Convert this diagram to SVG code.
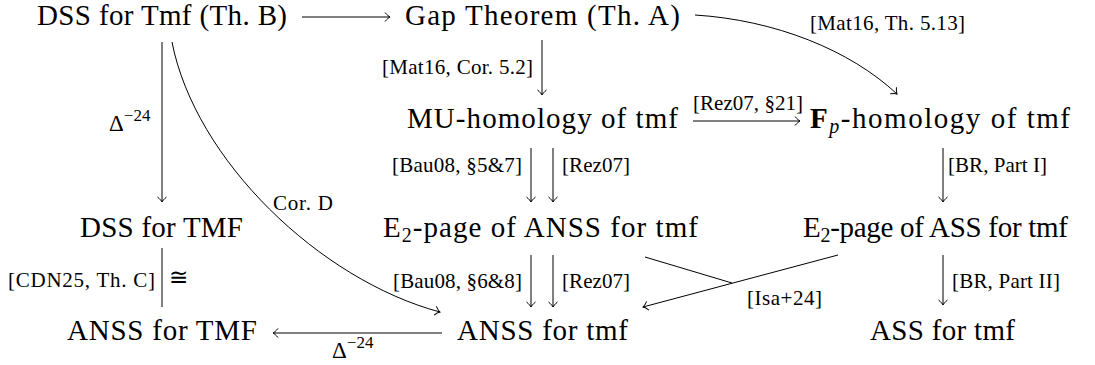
<svg xmlns="http://www.w3.org/2000/svg" width="1095" height="365" viewBox="0 0 1095 365">
<style>
.n{font-family:"Liberation Serif","Times New Roman",serif;font-size:29px;fill:#000}
.l{font-family:"Liberation Serif","Times New Roman",serif;font-size:21px;fill:#000}
.d{font-family:"Liberation Serif","Times New Roman",serif;font-size:23px;fill:#000}
.c{fill:none;stroke:#000;stroke-width:1}
.a{marker-end:url(#ah)}
</style>
<defs>
<marker id="ah" markerUnits="userSpaceOnUse" markerWidth="12" markerHeight="12" viewBox="-6 -6 12 12" refX="0" refY="0" orient="auto">
<path d="M-5,-4.5 C-3,-2 -1,-0.5 0,0 C-1,0.5 -3,2 -5,4.5" fill="none" stroke="#000" stroke-width="1"/>
</marker>
</defs>
<rect width="1095" height="365" fill="#fff"/>
<g id="connectors">
<path class="c a" d="M302 17 H390"/>
<path class="c a" d="M162 42 V202"/>
<path class="c a" d="M172 42 C195 160 320 280 440 312"/>
<path class="c a" d="M542 40 V95"/>
<path class="c a" d="M695 15 C775 20 850 50 897 94"/>
<path class="c a" d="M693 121 H800"/>
<path class="c a" d="M531 148 V202"/>
<path class="c a" d="M553 148 V202"/>
<path class="c a" d="M943 148 V202"/>
<path class="c" d="M162 248 V307"/>
<path class="c a" d="M531 255 V307"/>
<path class="c a" d="M553 255 V307"/>
<path class="c a" d="M943 255 V305"/>
<path class="c a" d="M442 333 H273"/>
<path class="c a" d="M838 255 L643 307"/>
<path class="c" d="M645 257 L732 283"/>
</g>
<g id="labels">
<text class="d" x="109" y="131">Δ<tspan font-size="17" dy="-10">−24</tspan></text>
<text class="l" x="273" y="210" textLength="60">Cor. D</text>
<text class="l" x="382" y="74" textLength="151">[Mat16, Cor. 5.2]</text>
<text class="l" x="810" y="30" textLength="155">[Mat16, Th. 5.13]</text>
<text class="l" x="693" y="110" textLength="110">[Rez07, §21]</text>
<text class="l" x="392" y="172" textLength="130">[Bau08, §5&amp;7]</text>
<text class="l" x="562" y="172" textLength="68">[Rez07]</text>
<text class="l" x="948" y="172" textLength="99">[BR, Part I]</text>
<text class="l" x="8" y="287" textLength="147">[CDN25, Th. C]</text>
<text class="d" x="169" y="285">≅</text>
<text class="l" x="393" y="288" textLength="129">[Bau08, §6&amp;8]</text>
<text class="l" x="562" y="288" textLength="68">[Rez07]</text>
<text class="l" x="952" y="288" textLength="108">[BR, Part II]</text>
<text class="l" x="747" y="305" textLength="75">[Isa+24]</text>
<text class="d" x="332" y="358">Δ<tspan font-size="17" dy="-10">−24</tspan></text>
</g>
<g id="n1"><text class="n" x="37" y="25" textLength="250">DSS for Tmf (Th. B)</text></g>
<g id="n2"><text class="n" x="405" y="25" textLength="275">Gap Theorem (Th. A)</text></g>
<g id="n3"><text class="n" x="407" y="128" textLength="271">MU-homology of tmf</text></g>
<g id="n4"><text class="n" x="810" y="128" textLength="260"><tspan font-weight="bold">F</tspan><tspan font-style="italic" font-size="20" dy="5">p</tspan><tspan dy="-5">-homology of tmf</tspan></text></g>
<g id="n5"><text class="n" x="80" y="237" textLength="163">DSS for TMF</text></g>
<g id="n6"><text class="n" x="383" y="237" textLength="315">E<tspan font-size="20" dy="5">2</tspan><tspan dy="-5">-page of ANSS for tmf</tspan></text></g>
<g id="n7"><text class="n" x="803" y="237" textLength="265">E<tspan font-size="20" dy="5">2</tspan><tspan dy="-5">-page of ASS for tmf</tspan></text></g>
<g id="n8"><text class="n" x="67" y="340" textLength="190">ANSS for TMF</text></g>
<g id="n9"><text class="n" x="457" y="340" textLength="171">ANSS for tmf</text></g>
<g id="n10"><text class="n" x="870" y="340" textLength="145">ASS for tmf</text></g>
</svg>
